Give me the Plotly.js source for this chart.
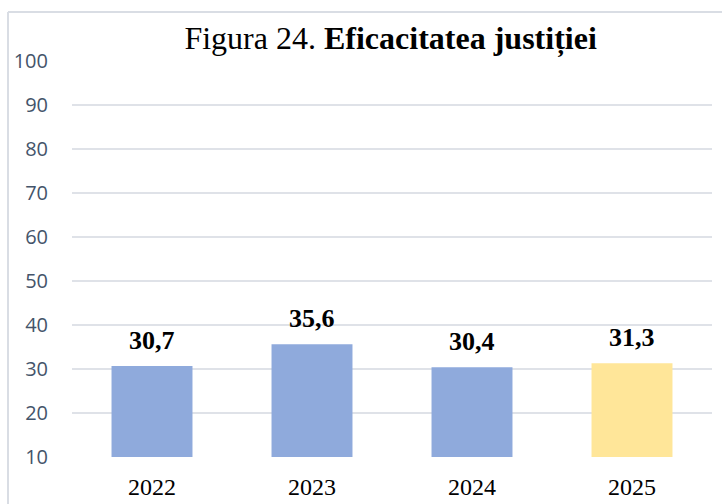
<!DOCTYPE html>
<html>
<head>
<meta charset="utf-8">
<script src="https://cdn.plot.ly/plotly-3.0.1.min.js"></script>
<style>html,body{margin:0;padding:0;background:#fff;}#chart{width:722px;height:504px;}</style>
</head>
<body>
<div id="chart"></div>
<script>
const years = ['2022', '2023', '2024', '2025'];
const values = [30.7, 35.6, 30.4, 31.3];
const barColors = ['#8faadc', '#8faadc', '#8faadc', '#ffe699'];
const yTicks = [10, 20, 30, 40, 50, 60, 70, 80, 90, 100];
const titleText = 'Figura 24. <b>Eficacitatea justiției</b>';

const trace = {
  type: 'bar',
  x: years,
  y: values,
  marker: {color: barColors},
  hoverinfo: 'none'
};

// category index used for annotation x (numeric-looking category names are read as indices)
const annotations = years.map((yr, i) => ({
  x: i, y: values[i], xref: 'x', yref: 'y',
  text: '<b>' + values[i].toFixed(1).replace('.', ',') + '</b>',
  showarrow: false, yanchor: 'bottom', yshift: 9,
  font: {family: 'Liberation Serif, Times New Roman, serif', size: 26, color: '#000'}
}));

const layout = {
  width: 722, height: 504,
  margin: {l: 72, r: 10, t: 61, b: 47},
  paper_bgcolor: '#fff', plot_bgcolor: '#fff',
  showlegend: false,
  bargap: 0.494,
  title: {
    text: titleText,
    font: {family: 'Liberation Serif, Times New Roman, serif', size: 32, color: '#000'},
    x: 0.541, xanchor: 'center', y: 0.925, yanchor: 'middle'
  },
  xaxis: {
    type: 'category',
    categoryorder: 'array', categoryarray: years,
    range: [-0.5, 3.5],
    showgrid: false, zeroline: false, showline: false,
    tickfont: {family: 'Liberation Serif, Times New Roman, serif', size: 24, color: '#000'},
    ticks: 'outside', ticklen: 8, tickcolor: 'rgba(0,0,0,0)'
  },
  yaxis: {
    range: [10, 100],
    tickvals: yTicks,
    showgrid: true, gridcolor: '#dfe2e8', gridwidth: 2,
    zeroline: false, showline: false,
    tickfont: {family: 'Open Sans, Liberation Sans, sans-serif', size: 20, color: '#44546a'},
    ticks: 'outside', ticklen: 19, tickcolor: 'rgba(0,0,0,0)'
  },
  annotations: annotations,
  shapes: [
    {type: 'line', xref: 'paper', yref: 'paper', x0: -0.1, x1: -0.1, y0: -0.2, y1: 1.124, line: {color: '#d9dde4', width: 2}},
    {type: 'line', xref: 'paper', yref: 'paper', x0: -0.1, x1: 1.1, y0: 1.124, y1: 1.124, line: {color: '#d9dde4', width: 2}}
  ]
};

Plotly.newPlot('chart', [trace], layout, {displayModeBar: false, staticPlot: true});
</script>
</body>
</html>
